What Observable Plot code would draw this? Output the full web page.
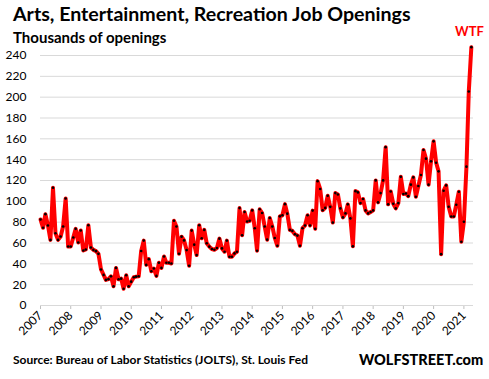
<!DOCTYPE html>
<html><head><meta charset="utf-8">
<script src="https://cdn.jsdelivr.net/npm/d3@7"></script>
<script src="https://cdn.jsdelivr.net/npm/@observablehq/plot@0.6"></script>
<style>
body{margin:0;background:#fff;}
#wrap{position:relative;width:489px;height:379px;font-family:Lato,"Open Sans",sans-serif;overflow:hidden;}
.t{position:absolute;font-weight:bold;white-space:nowrap;color:#000;line-height:1;}
#chart{position:absolute;left:0;top:0;}
</style></head><body>
<div id="wrap">
<div id="chart"></div>
<div class="t" id="title" style="left:13px;top:4px;font-size:19.6px">Arts, Entertainment, Recreation Job Openings</div>
<div class="t" id="sub" style="left:13px;top:30px;font-size:15px">Thousands of openings</div>
<div class="t" id="wtf" style="left:455px;top:25px;font-size:13px;color:#ff0000">WTF</div>
<div class="t" id="src" style="left:13px;top:354px;font-size:12px">Source: Bureau of Labor Statistics (JOLTS), St. Louis Fed</div>
<div class="t" id="ws" style="left:359px;top:353px;font-size:14.5px;font-weight:900">WOLFSTREET.com</div>
</div>
<script>
const startYear = 2007;
const openings = [
  82.6, 74.6, 87.7, 76.8, 63, 113, 69.4, 63, 66.2, 75.8, 102.7, 56.6,
  56.6, 65.3, 73.6, 60.5, 72, 52.8, 53.8, 77.1, 55.7, 53.4, 52.2, 49.6,
  34.6, 29.4, 24.6, 25.3, 28, 18.4, 36.1, 25.2, 25.8, 16.1, 29, 18.4,
  22.9, 27.1, 27.7, 28.1, 52.3, 62.3, 39, 44.5, 32.9, 35.5, 28.4, 41,
  36.1, 47.1, 41, 41, 40.3, 81.3, 75.8, 49.7, 66.1, 62.5, 53.2, 38.1,
  71.9, 58.4, 48.4, 77.1, 64.5, 72.6, 59.7, 56.5, 54.2, 53.5, 55.2, 64.2,
  54.8, 51.6, 62.3, 46.8, 46.8, 50, 51.6, 93.5, 67.4, 89.7, 80.6, 81.3,
  91.3, 74.2, 52.6, 92.4, 88.8, 75.8, 63.2, 84, 75.8, 64.8, 57.3, 85.6,
  86.6, 97.3, 88.2, 72.6, 71.6, 68.4, 67.1, 57.3, 74.2, 76.8, 86.6, 76.8,
  91.1, 73.6, 119.4, 111.9, 91.4, 93.7, 105.4, 94.7, 79.6, 107.9, 106.6, 93.2,
  84.6, 88.4, 97.1, 83.6, 56.8, 109.8, 108.6, 98.3, 102.2, 91.3, 88.4, 89.7,
  91.3, 120.1, 99, 107.9, 120.1, 152, 97.1, 109.5, 97.7, 93.2, 98.3, 123.5,
  107, 107.5, 105, 116, 123, 104.4, 114.7, 125.3, 149.3, 141, 116, 138.4,
  157.6, 137.1, 128.8, 49.3, 110.2, 115.3, 94.8, 85.5, 85.5, 96.7, 109.2, 61.2,
  80.4, 133.3, 205.4, 248
];
const yTicks = [0, 20, 40, 60, 80, 100, 120, 140, 160, 180, 200, 220, 240];
const yearLabels = [2007, 2008, 2009, 2010, 2011, 2012, 2013, 2014, 2015, 2016, 2017, 2018, 2019, 2020, 2021];

const data = openings.map((v, i) => ({date: new Date(Date.UTC(startYear, i, 1)), value: v}));
const yearDates = yearLabels.map(y => new Date(Date.UTC(y, 0, 1)));

const chart = Plot.plot({
  width: 489, height: 379,
  marginLeft: 40, marginRight: 16, marginTop: 55, marginBottom: 74,
  style: {fontFamily: "Lato, sans-serif", fontSize: "12px", color: "#000", background: "transparent"},
  x: {type: "utc", domain: [new Date(Date.UTC(2007, 0, 1)), new Date(Date.UTC(2021, 3, 27))]},
  y: {domain: [0, 240]},
  marks: [
    Plot.gridY(yTicks, {stroke: "#d9d9d9", strokeOpacity: 1, strokeWidth: 1}),
    Plot.axisY(yTicks, {tickSize: 0, tickPadding: 14, label: null, fill: "#000"}),
    Plot.axisX(yearDates, {tickRotate: -45, tickSize: 4, tickPadding: 4, label: null,
      tickFormat: d3.utcFormat("%Y"), stroke: "#bfbfbf", strokeOpacity: 1, fill: "#000"}),
    Plot.ruleY([0], {stroke: "#d9d9d9"}),
    Plot.line(data, {x: "date", y: "value", stroke: "#ff0000", strokeWidth: 4}),
    Plot.dot(data, {x: "date", y: "value", r: 1.3, fill: "#000", stroke: "none"})
  ]
});
document.getElementById("chart").appendChild(chart);
</script>
</body></html>
